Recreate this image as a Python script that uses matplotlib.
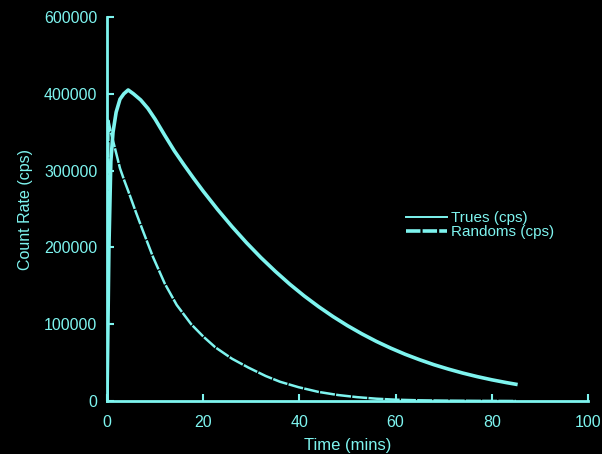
#!/usr/bin/env python3
"""Count rate vs time (trues / randoms), scanned-style plot on black."""
import matplotlib
matplotlib.use("Agg")
import matplotlib.pyplot as plt
from matplotlib.lines import Line2D

# --- data -----------------------------------------------------------------
t_trues = [0, 0.4, 0.8, 1.25, 1.9, 2.7, 3.5, 4.4, 5.5, 7, 8.5, 10, 12, 14,
           16, 18, 20, 23, 26, 29, 32, 35, 38, 41, 44, 47, 50, 53, 56, 59,
           62, 65, 68, 71, 74, 77, 80, 83, 85]
trues = [0, 200000, 312000, 350000, 376000, 393000, 400000, 405000, 400000,
         392000, 381000, 367000, 346000, 325700, 307500, 290000, 273200,
         249300, 227000, 206100, 186700, 168800, 152100, 136800, 122800,
         109900, 98100, 87400, 77600, 68800, 60800, 53700, 47200, 41500,
         36300, 31700, 27600, 24000, 21800]

t_randoms = [0, 0.3, 0.8, 1.7, 2.7, 3.6, 4.5, 6, 7.5, 9.6, 12, 14.5, 17.5,
             20, 22.5, 26, 29.4, 33, 36, 39.8, 44, 48, 52, 56, 60, 65, 70,
             77, 85]
randoms = [0, 365000, 350000, 328000, 303000, 287000, 272000, 246000,
           221000, 187000, 153000, 125000, 100000, 84000, 70000, 55000,
           43500, 32500, 25000, 18000, 11800, 7800, 5000, 3000, 1700, 900,
           500, 200, 0]

yticks = [0, 100000, 200000, 300000, 400000, 500000]
ytick_labels = ["0", "100000", "200000", "300000", "400000", "600000"]
xticks = [0, 20, 40, 60, 80, 100]

CYAN = "#7ef4ef"
plt.rcParams["font.family"] = ["Liberation Sans", "DejaVu Sans"]

fig = plt.figure(figsize=(6.02, 4.54), dpi=100, facecolor="black")
ax = fig.add_axes([107 / 602, 53 / 454, 481 / 602, 384 / 454])
ax.set_facecolor("black")

ax.plot(t_trues, trues, color=CYAN, lw=2.6, solid_joinstyle="round")
ax.plot(t_randoms, randoms, color=CYAN, lw=1.8, ls=(0, (6, 0.5)))

ax.set_xlim(0, 100)
ax.set_ylim(0, 500000)
ax.set_xticks(xticks)
ax.set_yticks(yticks)
ax.set_yticklabels(ytick_labels)

for s in ("top", "right"):
    ax.spines[s].set_visible(False)
for s in ("left", "bottom"):
    ax.spines[s].set_color(CYAN)
    ax.spines[s].set_linewidth(2)

ax.tick_params(axis="both", direction="in", colors=CYAN, labelsize=11.5,
               width=1.5, length=5)
ax.tick_params(axis="x", pad=10)
ax.tick_params(axis="y", pad=7)

ax.set_xlabel("Time (mins)", color=CYAN, fontsize=12, labelpad=6)
ax.set_ylabel("Count Rate (cps)", color=CYAN, fontsize=11.5, labelpad=8)

# legend as drawn in the source: thin line for trues, heavy for randoms
handles = [Line2D([], [], color=CYAN, lw=1.4),
           Line2D([], [], color=CYAN, lw=2.6, ls=(0, (4, 0.6)))]
leg = fig.legend(handles, ["Trues (cps)", "Randoms (cps)"],
                 loc="upper left", bbox_to_anchor=(406 / 602, 1 - 211 / 454),
                 frameon=False, fontsize=11, handlelength=2.7,
                 handletextpad=0.25, labelspacing=0.0, borderpad=0,
                 borderaxespad=0)
for txt in leg.get_texts():
    txt.set_color(CYAN)

fig.savefig("out.png", dpi=100, facecolor="black")
